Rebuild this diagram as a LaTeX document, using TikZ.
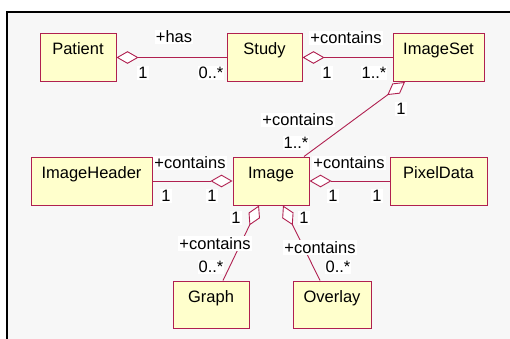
\documentclass[tikz,border=0pt]{standalone}
\usepackage{fontspec}
\setmainfont{Liberation Sans}
\usetikzlibrary{arrows.meta}
\definecolor{umlline}{RGB}{176,32,80}
\definecolor{umlfill}{RGB}{255,255,204}
\definecolor{canvas}{RGB}{247,247,247}
\begin{document}
\begin{tikzpicture}[x=1pt,y=-1pt,
  font=\fontsize{16.5pt}{18pt}\selectfont,
  cls/.style={draw=umlline, fill=umlfill, line width=1pt, rectangle,
    inner xsep=0pt, inner ysep=0pt, text height=21.5pt, text depth=26.5pt},
  lbl/.style={fill=white, inner sep=1pt},
  assoc/.style={draw=umlline, line width=0.9pt},
  agg/.style={assoc, {Diamond[length=22pt, width=12.6pt, fill=white, line width=0.9pt]}-},
]
\useasboundingbox (0,0) rectangle (510,339);
% sheet and its frame
\fill[canvas] (7,12) rectangle (510,339);
\draw[line width=2pt] (7,339) -- (7,12) -- (510,12);

% classes
\node[cls, minimum width=76pt] (patient)  at (78,57.5)    {Patient};
\node[cls, minimum width=75pt] (study)    at (264.5,57.5) {Study};
\node[cls, minimum width=91pt] (imageset) at (438.5,57.5) {ImageSet};
\node[cls, minimum width=121pt] (header)  at (91.5,181)   {ImageHeader};
\node[cls, minimum width=76pt] (image)    at (271,181)    {Image};
\node[cls, minimum width=97pt] (pixel)    at (438.5,181)  {PixelData};
\node[cls, minimum width=76pt, text depth=25.5pt] (graph)   at (211,304.5) {Graph};
\node[cls, minimum width=78pt, text depth=25.5pt] (overlay) at (332,304.5) {Overlay};

% associations (aggregate side carries the diamond)
\draw[agg] (patient.east) -- (study.west);
\draw[agg] (study.east) -- (imageset.west);
\draw[agg] ([xshift=-33.5pt]imageset.south) -- ([xshift=33pt]image.north);
\draw[agg] (image.west) -- (header.east);
\draw[agg] (image.east) -- (pixel.west);
\draw[agg] ([xshift=-12pt]image.south) -- ([xshift=12pt]graph.north);
\draw[agg] ([xshift=12pt]image.south) -- ([xshift=-12pt]overlay.north);

% role names and multiplicities
\node[lbl] (l1)  at (174,37)    {+has};
\node[lbl] (m1a) at (143,73)    {1};
\node[lbl] (m1b) at (211,73)    {0..*};
\node[lbl] (l2)  at (346,38)    {+contains};
\node[lbl] (m2a) at (327,73)    {1};
\node[lbl] (m2b) at (374,73)    {1..*};
\node[lbl] (m3a) at (401,109)   {1};
\node[lbl] (l3)  at (298,120)   {+contains};
\node[lbl] (m3b) at (296,143)   {1..*};
\node[lbl] (l4)  at (190,163)   {+contains};
\node[lbl] (m4a) at (166,196)   {1};
\node[lbl] (m4b) at (212,196)   {1};
\node[lbl] (l5)  at (349,163)   {+contains};
\node[lbl] (m5a) at (333,196)   {1};
\node[lbl] (m5b) at (377,196)   {1};
\node[lbl] (m6a) at (236,218)   {1};
\node[lbl] (l6)  at (215,243.5) {+contains};
\node[lbl] (m6b) at (211,267)   {0..*};
\node[lbl] (m7a) at (304,218)   {1};
\node[lbl] (l7)  at (320,247.5) {+contains};
\node[lbl] (m7b) at (338,267)   {0..*};
\end{tikzpicture}
\end{document}
